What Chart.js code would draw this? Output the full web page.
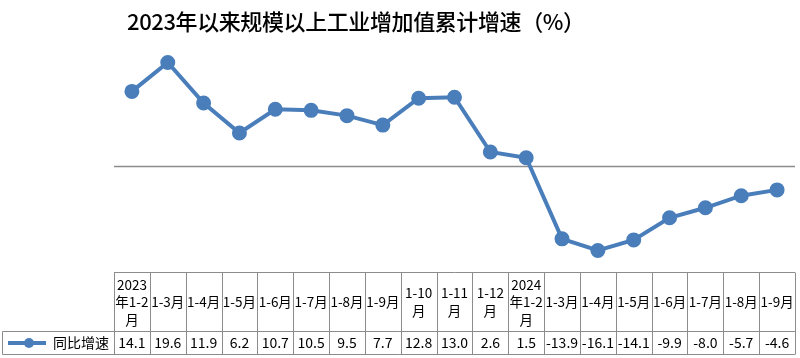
<!DOCTYPE html>
<html><head><meta charset="utf-8">
<script src="https://cdn.jsdelivr.net/npm/chart.js@4/dist/chart.umd.min.js"></script>
<style>html,body{margin:0;padding:0;background:#fff;overflow:hidden}#wrap{width:800px;height:358px;overflow:hidden}canvas{display:block}</style>
</head><body><div id="wrap"><canvas id="c" width="800" height="358"></canvas></div>
<script>
const titleText = "2023年以来规模以上工业增加值累计增速（%）";
const seriesName = "同比增速";
const categories = [["2023","年1-2","月"],["1-3月"],["1-4月"],["1-5月"],["1-6月"],["1-7月"],["1-8月"],["1-9月"],["1-10","月"],["1-11","月"],["1-12","月"],["2024","年1-2","月"],["1-3月"],["1-4月"],["1-5月"],["1-6月"],["1-7月"],["1-8月"],["1-9月"]];
const values = [14.1,19.6,11.9,6.2,10.7,10.5,9.5,7.7,12.8,13.0,2.6,1.5,-13.9,-16.1,-14.1,-9.9,-8.0,-5.7,-4.6];
const valueLabels = ["14.1","19.6","11.9","6.2","10.7","10.5","9.5","7.7","12.8","13.0","2.6","1.5","-13.9","-16.1","-14.1","-9.9","-8.0","-5.7","-4.6"];
const yMin = -20, yMax = 25;

const lineColor = '#4a7ebb';
const FONT = '"Noto Sans CJK SC", "Noto Sans", sans-serif';

const tablePlugin = {
  id: 'tablePlugin',
  beforeDatasetsDraw(chart) {
    const ctx = chart.ctx, y = chart.scales.y;
    const y0 = Math.round(y.getPixelForValue(0)) + 0.5;
    ctx.save();
    ctx.strokeStyle = '#8c8c8c'; ctx.lineWidth = 1.5;
    ctx.beginPath(); ctx.moveTo(chart.chartArea.left, y0); ctx.lineTo(chart.chartArea.right, y0); ctx.stroke();
    ctx.restore();
  },
  afterDraw(chart) {
    const ctx = chart.ctx, x = chart.scales.x;
    const n = categories.length;
    const left = chart.chartArea.left, right = chart.chartArea.right;
    const colW = (right - left) / n;
    const hTop = 272.5, hBot = 331.5, vBot = 354.5, legLeft = 2.5;
    ctx.save();
    // title
    ctx.fillStyle = '#000';
    ctx.font = '500 22px ' + FONT;
    if ('letterSpacing' in ctx) ctx.letterSpacing = '-0.4px';
    ctx.textAlign = 'left'; ctx.textBaseline = 'middle';
    ctx.fillText(titleText, 127, 22);
    if ('letterSpacing' in ctx) ctx.letterSpacing = '0px';
    // grid
    ctx.strokeStyle = '#8c8c8c'; ctx.lineWidth = 1;
    ctx.beginPath();
    ctx.moveTo(left, hTop); ctx.lineTo(right, hTop);
    ctx.moveTo(legLeft, hBot); ctx.lineTo(right, hBot);
    ctx.moveTo(legLeft, vBot); ctx.lineTo(right, vBot);
    ctx.moveTo(legLeft, hBot); ctx.lineTo(legLeft, vBot);
    for (let i = 0; i <= n; i++) {
      const xx = Math.round(left + i * colW) + 0.5;
      ctx.moveTo(xx, hTop); ctx.lineTo(xx, vBot);
    }
    ctx.stroke();
    // header text
    ctx.fillStyle = '#000';
    ctx.font = '13.5px ' + FONT;
    ctx.textAlign = 'center'; ctx.textBaseline = 'middle';
    const midH = (hTop + hBot) / 2;
    const lh = 17.5;
    categories.forEach((lines, i) => {
      const cx = x.getPixelForValue(i);
      const start = midH - (lines.length - 1) * lh / 2;
      lines.forEach((t, j) => ctx.fillText(t, cx, start + j * lh));
    });
    // values
    const midV = (hBot + vBot) / 2;
    ctx.font = '14px ' + FONT;
    valueLabels.forEach((t, i) => ctx.fillText(t, x.getPixelForValue(i), midV));
    // legend
    ctx.strokeStyle = lineColor; ctx.lineWidth = 4;
    ctx.beginPath(); ctx.moveTo(8, midV); ctx.lineTo(46, midV); ctx.stroke();
    ctx.fillStyle = lineColor;
    ctx.beginPath(); ctx.arc(29, midV, 5, 0, Math.PI * 2); ctx.fill();
    ctx.fillStyle = '#000';
    ctx.textAlign = 'left';
    ctx.font = '14px ' + FONT;
    ctx.fillText(seriesName, 53, midV);
    ctx.restore();
  }
};

new Chart(document.getElementById('c'), {
  type: 'line',
  data: {
    labels: categories.map(l => l.join('')),
    datasets: [{
      label: seriesName,
      data: values,
      borderColor: lineColor,
      backgroundColor: lineColor,
      borderWidth: 4,
      pointRadius: 5.5,
      pointHoverRadius: 5.5,
      tension: 0,
      fill: false
    }]
  },
  options: {
    responsive: false,
    animation: false,
    layout: { autoPadding: false, padding: { left: 114, right: 5, top: 34, bottom: 87 } },
    plugins: { legend: { display: false }, title: { display: false }, tooltip: { enabled: false } },
    scales: {
      x: { type: 'category', offset: true, display: false, grid: { display: false } },
      y: { min: yMin, max: yMax, display: false }
    }
  },
  plugins: [tablePlugin]
});
</script></body></html>
